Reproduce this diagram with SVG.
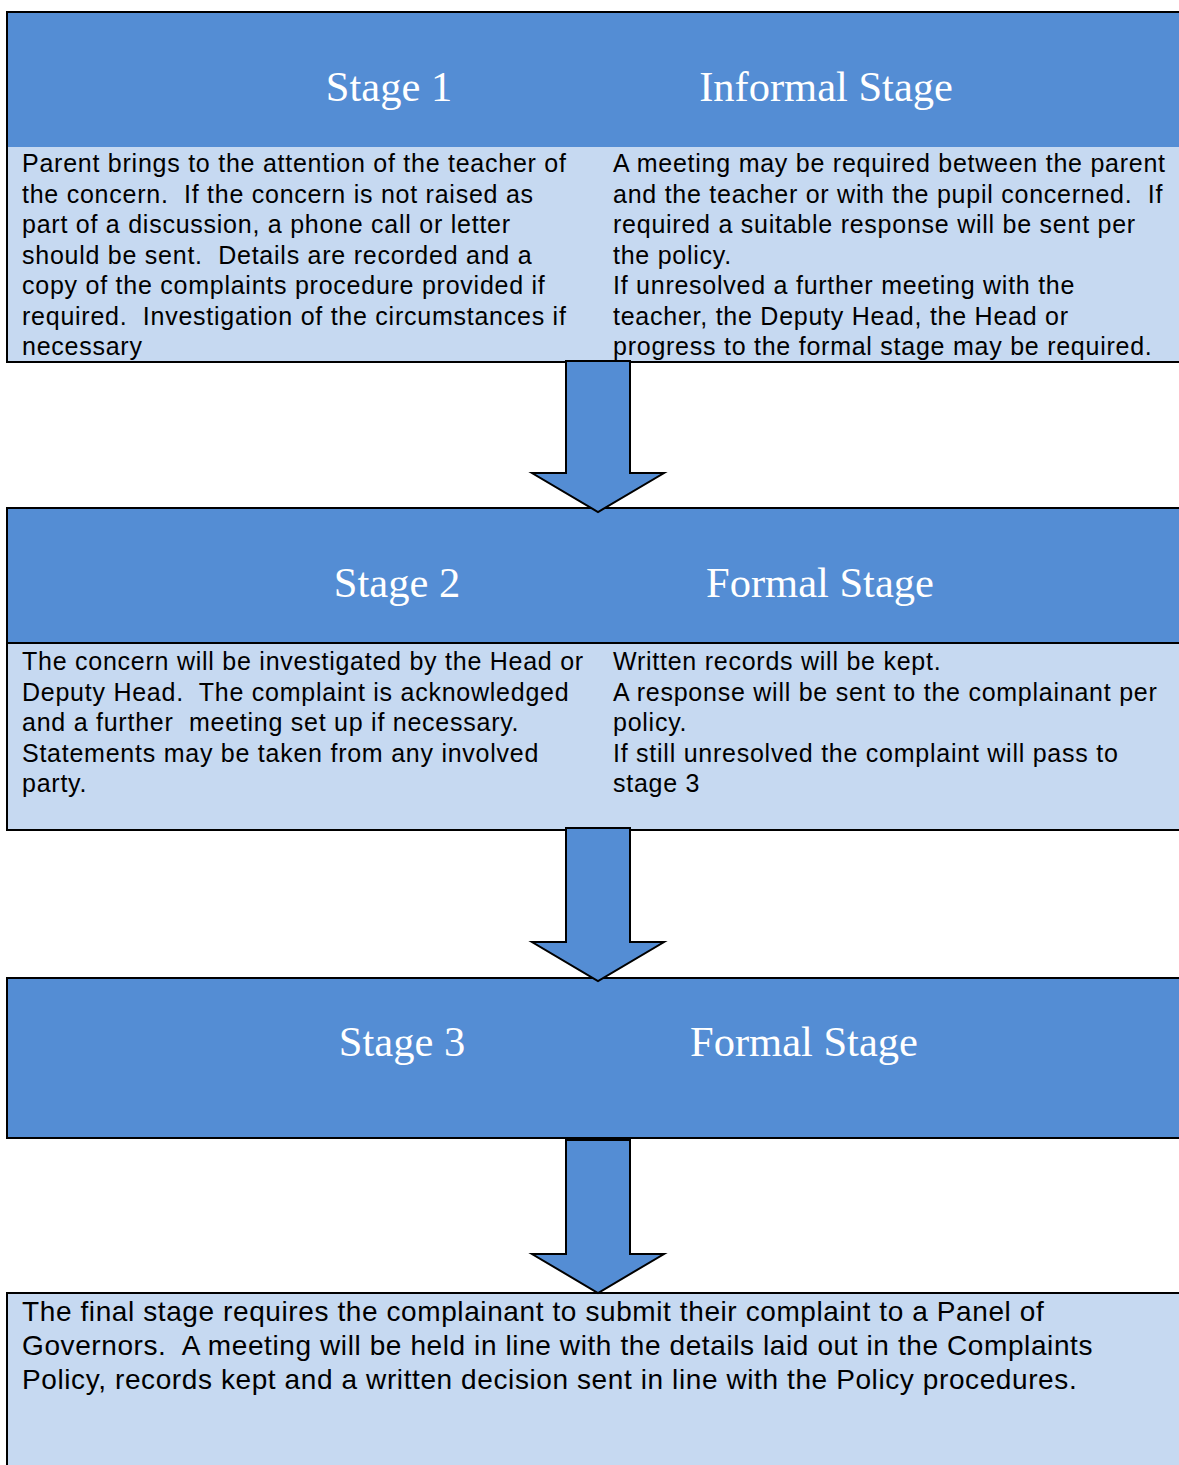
<svg xmlns="http://www.w3.org/2000/svg" width="1179" height="1465" viewBox="0 0 1179 1465" xml:space="preserve">
<style>
.hd{fill:#548DD4;}
.bd{fill:#C6D9F1;}
.ln{fill:none;stroke:#000;stroke-width:2;}
.t{font-family:"Liberation Serif","Times New Roman",serif;font-size:42.5px;fill:#fff;text-anchor:middle;}
.b{font-family:"Liberation Sans",Arial,sans-serif;font-size:25px;letter-spacing:0.75px;fill:#000;white-space:pre;}
.b4{font-family:"Liberation Sans",Arial,sans-serif;font-size:28px;letter-spacing:0.6px;fill:#000;white-space:pre;}
.ar{fill:#548DD4;stroke:#000;stroke-width:2;stroke-linejoin:miter;}
</style>
<rect width="1179" height="1465" fill="#fff"/>
<g id="stage1">
<rect class="hd" x="7" y="12" width="1185" height="135"/>
<rect class="bd" x="7" y="147" width="1185" height="215"/>
<rect class="ln" x="7" y="12" width="1185" height="350"/>
<text class="t" x="389" y="101">Stage 1</text>
<text class="t" x="826" y="101">Informal Stage</text>
<text class="b" x="22" y="172">Parent brings to the attention of the teacher of</text>
<text class="b" x="22" y="202.5">the concern.  If the concern is not raised as</text>
<text class="b" x="22" y="233">part of a discussion, a phone call or letter</text>
<text class="b" x="22" y="263.5">should be sent.  Details are recorded and a</text>
<text class="b" x="22" y="294">copy of the complaints procedure provided if</text>
<text class="b" x="22" y="324.5">required.  Investigation of the circumstances if</text>
<text class="b" x="22" y="355">necessary</text>
<text class="b" x="613" y="172">A meeting may be required between the parent</text>
<text class="b" x="613" y="202.5">and the teacher or with the pupil concerned.  If</text>
<text class="b" x="613" y="233">required a suitable response will be sent per</text>
<text class="b" x="613" y="263.5">the policy.</text>
<text class="b" x="613" y="294">If unresolved a further meeting with the</text>
<text class="b" x="613" y="324.5">teacher, the Deputy Head, the Head or</text>
<text class="b" x="613" y="355">progress to the formal stage may be required.</text>
</g>
<g id="stage2">
<rect class="hd" x="7" y="508" width="1185" height="135"/>
<rect class="bd" x="7" y="643" width="1185" height="187"/>
<rect class="ln" x="7" y="508" width="1185" height="322"/>
<line class="ln" x1="7" y1="643" x2="1192" y2="643"/>
<text class="t" x="397" y="597">Stage 2</text>
<text class="t" x="820" y="597">Formal Stage</text>
<text class="b" x="22" y="670">The concern will be investigated by the Head or</text>
<text class="b" x="22" y="700.5">Deputy Head.  The complaint is acknowledged</text>
<text class="b" x="22" y="731">and a further  meeting set up if necessary.</text>
<text class="b" x="22" y="761.5">Statements may be taken from any involved</text>
<text class="b" x="22" y="792">party.</text>
<text class="b" x="613" y="670">Written records will be kept.</text>
<text class="b" x="613" y="700.5">A response will be sent to the complainant per</text>
<text class="b" x="613" y="731">policy.</text>
<text class="b" x="613" y="761.5">If still unresolved the complaint will pass to</text>
<text class="b" x="613" y="792">stage 3</text>
</g>
<g id="stage3">
<rect class="hd" x="7" y="978" width="1185" height="160"/>
<rect class="ln" x="7" y="978" width="1185" height="160"/>
<text class="t" x="402" y="1056">Stage 3</text>
<text class="t" x="804" y="1056">Formal Stage</text>
</g>
<g id="final">
<rect class="bd" x="7" y="1293" width="1185" height="180"/>
<rect class="ln" x="7" y="1293" width="1185" height="180"/>
<text class="b4" x="22" y="1321">The final stage requires the complainant to submit their complaint to a Panel of</text>
<text class="b4" x="22" y="1355">Governors.  A meeting will be held in line with the details laid out in the Complaints</text>
<text class="b4" x="22" y="1389">Policy, records kept and a written decision sent in line with the Policy procedures.</text>
</g>
<g id="connectors">
<path class="ar" d="M566,361 H630 V473 H664 L598,512 L532,473 H566 Z"/>
<path class="ar" d="M566,828 H630 V942 H664 L598,981 L532,942 H566 Z"/>
<path class="ar" d="M566,1140 H630 V1254 H664 L598,1293 L532,1254 H566 Z"/>
</g>
</svg>
